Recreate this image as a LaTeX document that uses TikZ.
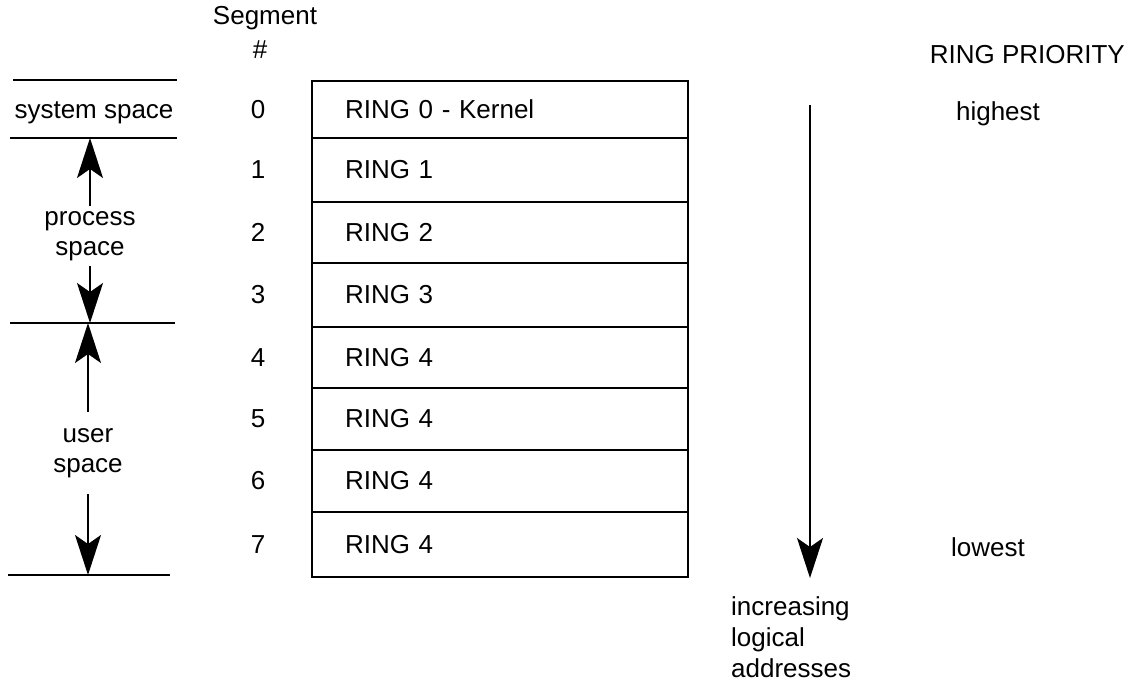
\documentclass[tikz,border=0pt]{standalone}
\usepackage{fontspec}
\setmainfont{Liberation Sans}
\usetikzlibrary{arrows.meta}
\begin{document}
\begin{tikzpicture}[x=1pt,y=-1pt,
  every node/.style={font=\fontsize{26}{30}\selectfont, inner sep=0pt},
  ringbox/.style={draw, line width=1.8pt, minimum width=376pt, text width=310pt, align=left, inner xsep=33pt},
  bound/.style={line width=1.8pt},
  arr/.style={line width=1.5pt, -{Stealth[length=40pt, width=26pt, inset=9pt]}},
  lbl/.style={align=center}]
\useasboundingbox (0,0) rectangle (1139,685);
% header
\node (seg) at (265,18) {Segment};
\node (hash) at (260,50) {\#};
\node[anchor=east] (prio) at (1125,55) {RING PRIORITY};
% ring rows
\node[ringbox, minimum height=57pt] (r0) at (500,109.5) {RING 0 - Kernel};
\node[ringbox, minimum height=64pt] (r1) at (500,170) {RING 1};
\node[ringbox, minimum height=61pt] (r2) at (500,232.5) {RING 2};
\node[ringbox, minimum height=64pt] (r3) at (500,295) {RING 3};
\node[ringbox, minimum height=61pt] (r4) at (500,357.5) {RING 4};
\node[ringbox, minimum height=62pt] (r5) at (500,419) {RING 4};
\node[ringbox, minimum height=62pt] (r6) at (500,481) {RING 4};
\node[ringbox, minimum height=65pt] (r7) at (500,544.5) {RING 4};
% segment numbers
\foreach \i in {0,...,7} {
  \node (n\i) at (258,0 |- r\i.center) {\i};
}
% left boundaries
\coordinate (b0l) at (13,80);  \coordinate (b0r) at (177,80);
\coordinate (b1l) at (10,138); \coordinate (b1r) at (177,138);
\coordinate (b2l) at (10,323); \coordinate (b2r) at (175,323);
\coordinate (b3l) at (8,575);  \coordinate (b3r) at (170,575);
\draw[bound] (b0l) -- (b0r);
\draw[bound] (b1l) -- (b1r);
\draw[bound] (b2l) -- (b2r);
\draw[bound] (b3l) -- (b3r);
\node (sys) at (94,113) {system space};
\node[lbl] (proc) at (90,236) {process\\space};
\node[lbl] (user) at (88,453) {user\\space};
\coordinate (p1) at (90,138);
\coordinate (p2) at (90,323);
\coordinate (u1) at (88,323);
\coordinate (u2) at (88,575);
\draw[arr] (proc.north) ++(0,-5) coordinate (ps) -- (p1);
\draw[arr] (proc.south) ++(0,5) coordinate (pe) -- (p2);
\draw[arr] (user.north) ++(0,-16) coordinate (us) -- (u1);
\draw[arr] (user.south) ++(0,16) coordinate (ue) -- (u2);
% right arrow
\coordinate (rs) at (810,105);
\coordinate (re) at (810,578);
\draw[arr] (rs) -- (re);
\node[anchor=north west, align=left, font=\fontsize{26}{31}\selectfont] (inc) at (731,596) {increasing\\logical\\addresses};
\node (hi) at (998,114) {highest};
\node (lo) at (988,547) {lowest};
\end{tikzpicture}
\end{document}
